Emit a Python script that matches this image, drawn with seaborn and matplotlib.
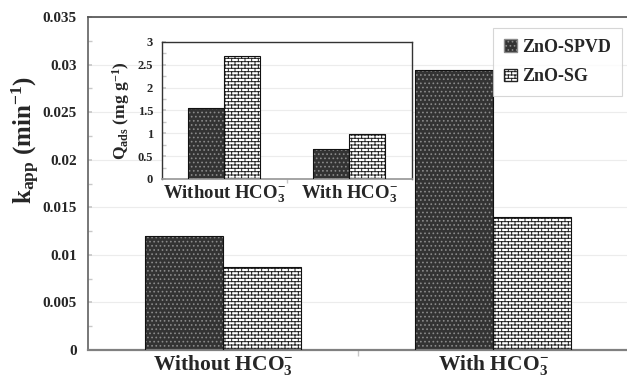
import warnings
import numpy as np
import pandas as pd
import matplotlib
matplotlib.use("Agg")
import matplotlib.pyplot as plt
import matplotlib.hatch as mhatch
from matplotlib.path import Path
from matplotlib.ticker import MultipleLocator, FuncFormatter, FixedLocator
import seaborn as sns

warnings.filterwarnings("ignore")

# data
conditions = ["Without HCO$_3^{-}$", "With HCO$_3^{-}$"]
samples = ["ZnO-SPVD", "ZnO-SG"]
kapp_spvd = [0.0120, 0.0294]
kapp_sg = [0.0087, 0.0140]
qads_spvd = [1.55, 0.66]
qads_sg = [2.70, 0.99]


class BrickHatch(mhatch.HatchPatternBase):
    """Brick-wall hatch, triggered by the 'b' character."""

    def __init__(self, hatch, density):
        self.rows = hatch.count("b") * density
        self.cols = self.rows // 2
        self.num_vertices = 2 * self.rows + 2 * (self.rows + 1) * self.cols

    def set_vertices_and_codes(self, vertices, codes):
        h = 1.0 / self.rows
        w = 1.0 / self.cols
        pts = []
        for r in range(self.rows):
            y = (r + 0.5) * h
            pts += [(0.0, y), (1.0, y)]
        for r in range(-1, self.rows):
            off = 0.25 * w if r % 2 == 0 else 0.75 * w
            for c in range(self.cols):
                x = c * w + off
                pts += [(x, (r + 0.5) * h), (x, (r + 1.5) * h)]
        vertices[:] = np.array(pts)
        codes[0::2] = Path.MOVETO
        codes[1::2] = Path.LINETO


mhatch._hatch_types.append(BrickHatch)

sns.set_theme(style="white")
plt.rcParams["font.family"] = ["Liberation Serif", "DejaVu Serif"]
plt.rcParams["font.weight"] = "bold"
plt.rcParams["axes.labelweight"] = "bold"
plt.rcParams["mathtext.fontset"] = "custom"
plt.rcParams["mathtext.rm"] = "Liberation Serif:bold"
plt.rcParams["mathtext.it"] = "Liberation Serif:bold"
plt.rcParams["mathtext.bf"] = "Liberation Serif:bold"
plt.rcParams["hatch.linewidth"] = 0.7

kapp_df = pd.DataFrame({
    "condition": conditions * 2,
    "sample": [samples[0]] * 2 + [samples[1]] * 2,
    "kapp": kapp_spvd + kapp_sg,
})
qads_df = pd.DataFrame({
    "condition": conditions * 2,
    "sample": [samples[0]] * 2 + [samples[1]] * 2,
    "qads": qads_spvd + qads_sg,
})

styles = {
    "ZnO-SPVD": dict(face="#333333", hatch="....", hatch_col="#8a8a8a"),
    "ZnO-SG": dict(face="white", hatch="bbbbb", hatch_col="#222222"),
}
palette = {k: v["face"] for k, v in styles.items()}


def style_bars(ax):
    for cont, name in zip(ax.containers, samples):
        st = styles[name]
        for bar in cont:
            bar.set_hatch(st["hatch"])
            bar.set_edgecolor(st["hatch_col"])
            bar.set_linewidth(0)
            ax.add_patch(plt.Rectangle(bar.get_xy(), bar.get_width(), bar.get_height(),
                                       fill=False, ec="#111111", lw=0.8, zorder=3))


fig = plt.figure(figsize=(6.27, 3.78), dpi=100)
ax = fig.add_axes([88 / 627, 1 - 350 / 378, 540 / 627, 333 / 378])

sns.barplot(data=kapp_df, x="condition", y="kapp", hue="sample", hue_order=samples,
            palette=palette, width=0.58, saturation=1, ax=ax, zorder=2)
style_bars(ax)

ax.set_xlim(-0.5, 1.5)
ax.set_ylim(0, 0.035)
ax.yaxis.set_major_locator(MultipleLocator(0.005))
ax.yaxis.set_minor_locator(MultipleLocator(0.0025))
ax.yaxis.set_major_formatter(FuncFormatter(lambda v, p: f"{v:g}"))
ax.tick_params(axis="y", which="both", direction="in", length=3, color="#c8c8c8",
               labelsize=11, pad=8, left=True)
ax.xaxis.set_minor_locator(FixedLocator([0.5]))
ax.tick_params(axis="x", which="major", length=0, labelsize=15.5, pad=2)
ax.tick_params(axis="x", which="minor", direction="out", length=4, color="#c8c8c8", bottom=True)
ax.grid(axis="y", color="#ececec", lw=0.8)
ax.set_axisbelow(True)
ax.set_xlabel("")
ax.set_ylabel(r"$\mathrm{k_{app}}$ (min$^{-1}$)", fontsize=18, fontweight="bold")
ax.yaxis.set_label_coords(-0.086, 0.63)
for lbl in ax.get_yticklabels() + ax.get_xticklabels():
    lbl.set_fontweight("bold")

ax.spines["right"].set_visible(False)
ax.spines["top"].set_color("#555555")
ax.spines["left"].set_color("#666666")
ax.spines["bottom"].set_color("#808080")
ax.spines["bottom"].set_linewidth(1.6)

leg = ax.legend(loc="upper right", bbox_to_anchor=(534 / 540, 322 / 333), borderaxespad=0,
                fontsize=13, frameon=True, fancybox=False, edgecolor="#cccccc",
                handlelength=0.7, handleheight=0.7, handletextpad=0.3,
                labelspacing=0.7, borderpad=0.6, title=None)
leg.get_frame().set_linewidth(0.8)
for h, name in zip(leg.legend_handles, samples):
    st = styles[name]
    h.set_hatch(st["hatch"])
    h.set_edgecolor(st["hatch_col"])
    h.set_facecolor(st["face"])
for t in leg.get_texts():
    t.set_fontweight("bold")

# inset: adsorbed amount
ins = fig.add_axes([161.5 / 627, 1 - 179 / 378, 250 / 627, 137 / 378])
sns.barplot(data=qads_df, x="condition", y="qads", hue="sample", hue_order=samples,
            palette=palette, width=0.58, saturation=1, ax=ins, zorder=2, legend=False)
style_bars(ins)
ins.set_facecolor("white")
ins.set_xlim(-0.5, 1.5)
ins.set_ylim(0, 3)
ins.yaxis.set_major_locator(MultipleLocator(0.5))
ins.yaxis.set_minor_locator(MultipleLocator(0.25))
ins.yaxis.set_major_formatter(FuncFormatter(lambda v, p: f"{v:g}"))
ins.tick_params(axis="y", which="both", direction="in", length=3, color="#c8c8c8",
                labelsize=9, pad=6, left=True)
ins.xaxis.set_minor_locator(FixedLocator([0.5]))
ins.tick_params(axis="x", which="major", length=0, labelsize=13.5, pad=3)
ins.tick_params(axis="x", which="minor", direction="out", length=3, color="#c8c8c8", bottom=True)
ins.grid(axis="y", color="#ececec", lw=0.8)
ins.set_axisbelow(True)
ins.set_xlabel("")
ins.set_ylabel(r"$\mathrm{Q_{ads}}$ (mg g$^{-1}$)", fontsize=12.5, fontweight="bold", labelpad=4)
for lbl in ins.get_yticklabels() + ins.get_xticklabels():
    lbl.set_fontweight("bold")
for s in ["left", "top", "right"]:
    ins.spines[s].set_color("#333333")
    ins.spines[s].set_linewidth(1.0)
ins.spines["bottom"].set_color("#999999")

fig.savefig("out.png", dpi=100)
